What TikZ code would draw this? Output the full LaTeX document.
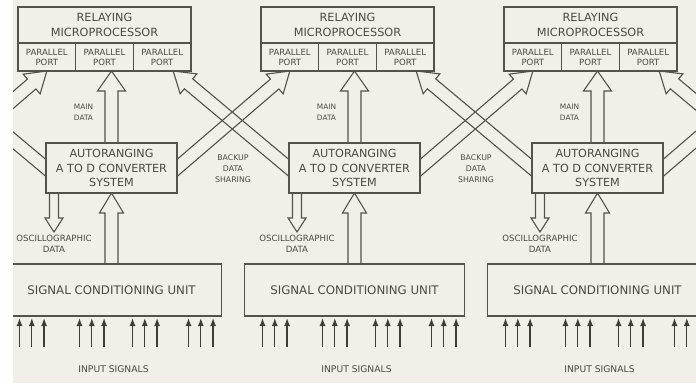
\documentclass[tikz,border=0pt]{standalone}
\usepackage{fontspec}
\setmainfont{DejaVu Sans}
\usetikzlibrary{arrows.meta,positioning,calc,backgrounds}
\definecolor{ink}{HTML}{55514B}
\definecolor{paper}{HTML}{F2EFE8}
\tikzstyle{block}=[draw=ink, fill=paper, text=ink!90!black, align=center, inner sep=0pt, outer sep=0pt, line width=1.1pt]
\tikzstyle{port}=[block, minimum width=57.67pt, minimum height=28pt, font=\fontsize{8.6}{10}\selectfont]
\tikzstyle{fat}=[draw=ink, line width=1.1pt, line join=miter]
\tikzstyle{lbl}=[text=ink!90!black, align=center, inner sep=0pt]
\tikzstyle{sig}=[draw=ink!75!black, line width=1.3pt, -{Latex[length=8pt,width=6pt]}]
% hollow arrow: from, to, half shaft, half head, head length
\newcommand{\fatarrow}[5]{%
  \draw[fat] let \p1=($(#2)-(#1)$), \n1={atan2(\y1,\x1)}, \n2={veclen(\x1,\y1)} in
    [shift={(#1)}, rotate=\n1]
    (-10,-#3) -- (\n2-#5,-#3) -- (\n2-#5,-#4) -- (\n2,0) -- (\n2-#5,#4) -- (\n2-#5,#3) -- (-10,#3);%
}
% text only on the boards that are in view
\newcommand{\shown}[1]{\ifnum\i>0 \ifnum\i<4 #1\fi\fi}

\begin{document}
\begin{tikzpicture}[x=1pt,y=-1pt]
\useasboundingbox (0,0) rectangle (696,383);
\clip (13,0) rectangle (696,383);

% one column per board
\foreach \i in {0,...,4}{
  \pgfmathsetmacro{\c}{111.5+243*(\i-1)}
  \node[block, minimum width=173pt, minimum height=36pt, font=\fontsize{11.3}{14.5}\selectfont] (mp\i) at (\c-7,25) {\shown{RELAYING\\MICROPROCESSOR}};
  \node[port] (pa\i) [below right=0pt and 0pt of mp\i.south west] {\shown{PARALLEL\\PORT}};
  \node[port] (pb\i) [right=0pt of pa\i] {\shown{PARALLEL\\PORT}};
  \node[port] (pc\i) [right=0pt of pb\i] {\shown{PARALLEL\\PORT}};
  \coordinate (t\i) at ($(pc\i.south)+(11,0)$);
  \node[block, minimum width=131pt, minimum height=50pt, font=\fontsize{11.2}{14.5}\selectfont] (conv\i) at (\c,168) {\shown{AUTORANGING\\A TO D CONVERTER\\SYSTEM}};
  \node[block, minimum width=220pt, minimum height=52pt, font=\fontsize{11.8}{13}\selectfont] (scu\i) at (\c,290) {\shown{SIGNAL CONDITIONING UNIT}};
  \coordinate (os\i) at (\c-57.5,232);
  \ifnum\i>0 \ifnum\i<4
  \node[lbl, font=\fontsize{7.4}{10.5}\selectfont] (md\i) at (\c-28,112.5) {MAIN\\DATA};
  \node[lbl, font=\fontsize{8.6}{11}\selectfont] (od\i) [below=3pt of os\i] {OSCILLOGRAPHIC\\DATA};
  \node[lbl, font=\fontsize{9.2}{11}\selectfont] (is\i) [below=49pt of scu\i, xshift=2pt] {INPUT SIGNALS};
  \fi\fi
  \ifnum\i>0 \ifnum\i<3
  \node[lbl, font=\fontsize{7.8}{11}\selectfont] (bk\i) at (\c+121.5,169) {BACKUP\\DATA\\SHARING};
  \fi\fi
  \foreach \g in {18,78,131,187}
    \foreach \k in {0,1,2}
      \draw[sig] ($(scu\i.south west)+(\g+\k*12.3,31)$) -- ($(scu\i.south west)+(\g+\k*12.3,2)$);
}

\begin{pgfonlayer}{background}
  \fill[white!96!paper] (0,0) rectangle (13,383);
  \clip (13,0) rectangle (696,383);
  \fill[paper] (13,0) rectangle (696,383);
  \foreach \i in {0,...,4}{
    \fatarrow{conv\i.north}{conv\i |- pb\i.south}{6.5}{14}{20}
    \fatarrow{scu\i.north}{conv\i.south}{6.5}{12}{20}
    \fatarrow{os\i |- conv\i.south}{os\i}{4.5}{9}{14}
  }
  \foreach \i [evaluate=\i as \j using int(\i+1)] in {0,...,3}{
    \fatarrow{conv\i.east}{pa\j.south}{6.5}{13}{20}
    \fatarrow{conv\j.west}{t\i}{6.5}{13}{20}
  }
\end{pgfonlayer}
\end{tikzpicture}
\end{document}
